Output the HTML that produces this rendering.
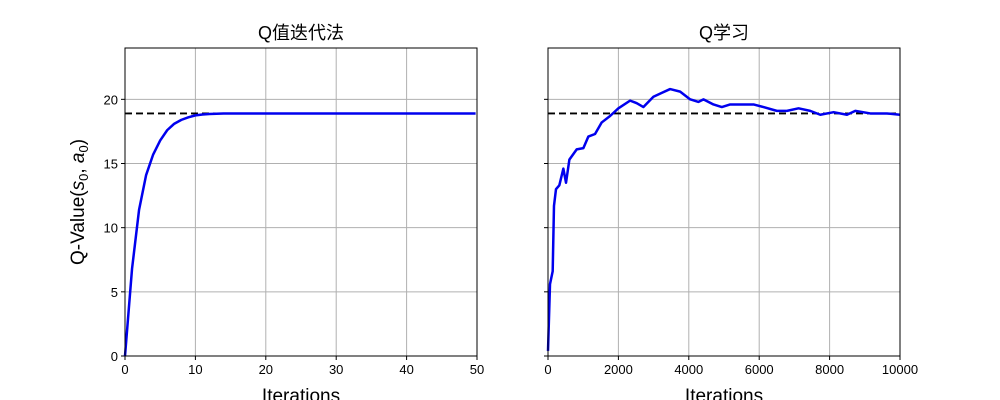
<!DOCTYPE html>
<html><head><meta charset="utf-8">
<style>
html,body{margin:0;padding:0;background:#fff;width:1000px;height:400px;overflow:hidden}
svg text{font-family:"Liberation Sans","Noto Sans CJK SC",sans-serif;fill:#000}
</style></head>
<body>
<svg id="fig" width="1000" height="400" viewBox="0 0 1000 400" xmlns="http://www.w3.org/2000/svg">
<g id="left"></g>
<g id="right"></g>
<text transform="translate(84,202) rotate(-90)" text-anchor="middle" font-size="19">Q-Value(<tspan font-style="italic">s</tspan><tspan font-size="13" dy="4">0</tspan><tspan dy="-4">, </tspan><tspan font-style="italic">a</tspan><tspan font-size="13" dy="4">0</tspan><tspan dy="-4">)</tspan></text>
</svg>
<script>
const leftX = [0,1,2,3,4,5,6,7,8,9,10,11,12,13,14,16,20,30,40,49.8];
const leftY = [0,6.8,11.4,14.1,15.7,16.8,17.6,18.1,18.4,18.6,18.75,18.82,18.86,18.88,18.9,18.9,18.9,18.9,18.9,18.9];
const rightX = [0,57,133,170,227,322,436,512,607,815,1005,1147,1336,1526,1763,2000,2332,2521,2711,2995,3232,3469,3754,4038,4275,4417,4701,4938,5175,5555,5839,6123,6502,6787,7118,7450,7735,8114,8493,8730,9156,9630,10000];
const rightY = [0.4,5.6,6.6,11.7,13.0,13.3,14.6,13.5,15.3,16.1,16.2,17.1,17.3,18.2,18.7,19.3,19.9,19.7,19.4,20.2,20.5,20.8,20.6,20.0,19.8,20.0,19.6,19.4,19.6,19.6,19.6,19.4,19.1,19.1,19.3,19.1,18.8,19.0,18.8,19.1,18.9,18.9,18.8];
const optimal = 18.9;
const yTicks = [0,5,10,15,20];
const leftXTicks = [0,10,20,30,40,50];
const rightXTicks = [0,2000,4000,6000,8000,10000];
const NS="http://www.w3.org/2000/svg";
const top0=48,bot=356,yMax=24;
function yS(v){return bot-(v/yMax)*(bot-top0);}
function mk(p,tag,attrs){const e=document.createElementNS(NS,tag);for(const k in attrs)e.setAttribute(k,attrs[k]);p.appendChild(e);return e;}
function panel(g,x0,x1,xmax,xt,xs,ys,title,showY){
  const xS=v=>x0+(v/xmax)*(x1-x0);
  xt.forEach(t=>{const l=mk(g,'line',{x1:xS(t),x2:xS(t),y1:top0,y2:bot,stroke:'#b0b0b0','stroke-width':1});
    
    
    const tk=mk(g,'line',{x1:xS(t),x2:xS(t),y1:bot,y2:bot+4,stroke:'#000'});
    
    
    const tx=mk(g,'text',{x:xS(t),y:bot+18,'text-anchor':'middle','font-size':13});tx.textContent=t;
    
    });
  yTicks.forEach(t=>{const l=mk(g,'line',{x1:x0,x2:x1,y1:yS(t),y2:yS(t),stroke:'#b0b0b0','stroke-width':1});
    
    
    const tk=mk(g,'line',{x1:x0-4,x2:x0,y1:yS(t),y2:yS(t),stroke:'#000'});
    
    
    if(showY){const tx=mk(g,'text',{x:x0-7,y:yS(t)+5,'text-anchor':'end','font-size':13});tx.textContent=t;
      
      }});
  const d=mk(g,'line',{x1:x0,x2:x1,y1:yS(optimal),y2:yS(optimal),stroke:'#000','stroke-width':1.8,'stroke-dasharray':'7,4'});
  
  
  const p=mk(g,'polyline',{points:xs.map((v,i)=>xS(v)+','+yS(ys[i])).join(' '),fill:'none',stroke:'#0000ee','stroke-width':2.5,'stroke-linejoin':'round'});
  
  
  const r=mk(g,'rect',{x:x0,y:top0,width:x1-x0,height:bot-top0,fill:'none',stroke:'#000','stroke-width':1});
  
  
  const t=mk(g,'text',{x:(x0+x1)/2,y:39,'text-anchor':'middle','font-size':18});t.textContent=title;
  
  
  const xl=mk(g,'text',{x:(x0+x1)/2,y:402,'text-anchor':'middle','font-size':19});xl.textContent='Iterations';
  
  
}
panel(document.getElementById('left'),125,477,50,leftXTicks,leftX,leftY,'Q值迭代法',true);
panel(document.getElementById('right'),548,900,10000,rightXTicks,rightX,rightY,'Q学习',false);
</script>
</body></html>
